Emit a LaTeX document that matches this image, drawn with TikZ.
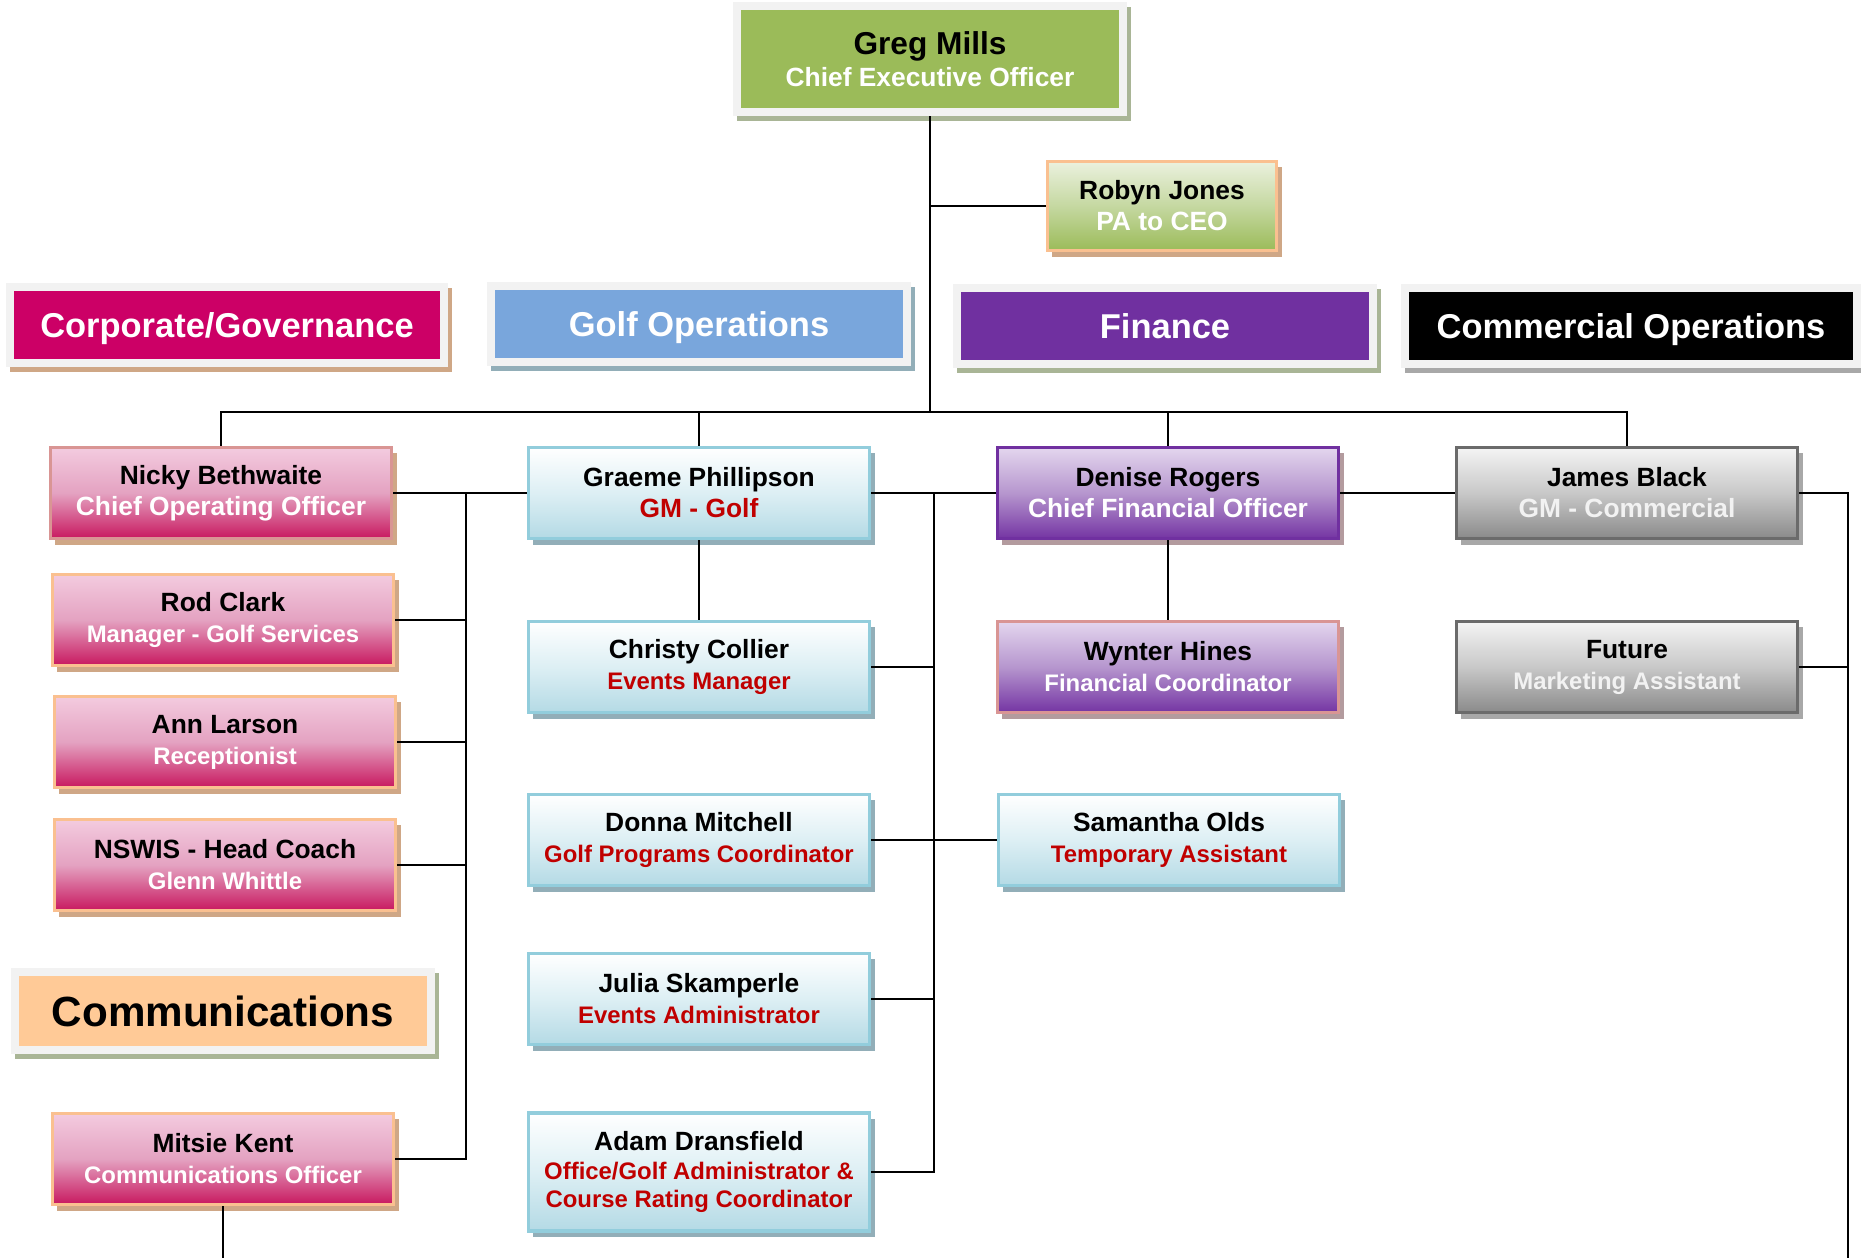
\documentclass[tikz,border=0pt]{standalone}
\usepackage{fontspec}
\setmainfont{Liberation Sans}
\usetikzlibrary{shadows}

\definecolor{ceogreen}{HTML}{9BBB59}
\definecolor{framegray}{HTML}{F2F2F2}
\definecolor{corpmag}{HTML}{CC0066}
\definecolor{golfblue}{HTML}{79A6DC}
\definecolor{finpurple}{HTML}{7030A0}
\definecolor{commorange}{HTML}{FFCA97}
\definecolor{rolered}{HTML}{C00000}
\definecolor{pinktop}{HTML}{F3CBDF}
\definecolor{pinkmid}{HTML}{E4A2C1}
\definecolor{pinkbot}{HTML}{C8185F}
\definecolor{bluetop}{HTML}{FFFFFF}
\definecolor{bluemid}{HTML}{DDEFF4}
\definecolor{bluebot}{HTML}{B4DAE5}
\definecolor{blueline}{HTML}{92CDDC}
\definecolor{purptop}{HTML}{E4D6EE}
\definecolor{purpmid}{HTML}{B696CE}
\definecolor{purpbot}{HTML}{7434A3}
\definecolor{greytop}{HTML}{F4F4F4}
\definecolor{greymid}{HTML}{C8C8C8}
\definecolor{greybot}{HTML}{8A8A8A}
\definecolor{greyline}{HTML}{6B6B6B}
\definecolor{greentop}{HTML}{EBF1DE}
\definecolor{greenmid}{HTML}{C5D8A1}
\definecolor{orangeline}{HTML}{FAC090}
\definecolor{roseline}{HTML}{D99594}
\definecolor{tanshadow}{HTML}{CFA786}
\definecolor{sageshadow}{HTML}{A9B596}
\definecolor{tealshadow}{HTML}{92AEB8}
\definecolor{mauveshadow}{HTML}{B39B9E}
\definecolor{greyshadow}{HTML}{A8A8A8}

\tikzset{
	conn/.style={draw=black, line width=0.6pt},
	banner/.style 2 args={fill=framegray, inner sep=0pt, text=white,
		font=\fontsize{9.8}{11}\selectfont\bfseries, text height=0.25cm, text depth=0pt,
		path picture={\fill[#1] ([shift={(0.08cm,0.08cm)}]path picture bounding box.south west) rectangle ([shift={(-0.08cm,-0.08cm)}]path picture bounding box.north east);},
		general shadow={fill=#2, shadow xshift=0.04cm, shadow yshift=-0.05cm}},
	person/.style={draw, line width=0.9pt, inner sep=0pt, minimum width=3.41cm, minimum height=0.91cm,
		align=center, font=\fontsize{7.5}{8.8}\selectfont\bfseries},
	pinkbox/.style={person, draw=#1, top color=pinktop, bottom color=pinkbot, middle color=pinkmid,
		general shadow={fill=tanshadow, shadow xshift=0.05cm, shadow yshift=-0.06cm}},
	bluebox/.style={person, draw=blueline, top color=bluetop, bottom color=bluebot, middle color=bluemid,
		general shadow={fill=tealshadow, shadow xshift=0.05cm, shadow yshift=-0.06cm}},
	purplebox/.style={person, draw=#1, top color=purptop, bottom color=purpbot, middle color=purpmid,
		general shadow={fill=mauveshadow, shadow xshift=0.05cm, shadow yshift=-0.06cm}},
	greybox/.style={person, draw=greyline, top color=greytop, bottom color=greybot, middle color=greymid,
		general shadow={fill=greyshadow, shadow xshift=0.05cm, shadow yshift=-0.06cm}},
	greenbox/.style={person, draw=orangeline, top color=greentop, bottom color=ceogreen, middle color=greenmid,
		general shadow={fill=tanshadow, shadow xshift=0.05cm, shadow yshift=-0.06cm}}
}

\begin{document}
\begin{tikzpicture}[x=0.01cm, y=-0.01cm]
	\useasboundingbox (0,0) rectangle (1861,1258);

	% top
	\node[banner={ceogreen}{sageshadow}, minimum width=3.93cm, minimum height=1.13cm, align=center,
		font=\fontsize{9}{9.1}\selectfont\bfseries, text=black, text height=, text depth=] (ceo) at (930,59)
		{Greg Mills\\\fontsize{7.5}{9.1}\selectfont\color{white}Chief Executive Officer};
	\node[greenbox, minimum width=2.29cm, minimum height=0.89cm] (robyn) at (1162,206) {Robyn Jones\\\color{white}PA to CEO};

	% departments
	\node[banner={corpmag}{tanshadow}, minimum width=4.41cm, minimum height=0.84cm] (corp) at (227,325) {Corporate/Governance};
	\node[banner={golfblue}{tealshadow}, minimum width=4.24cm, minimum height=0.84cm] (golfops) at (699,324) {Golf Operations};
	\node[banner={finpurple}{sageshadow}, minimum width=4.24cm, minimum height=0.84cm] (finance) at (1165,326) {Finance};
	\node[banner={black}{greyshadow}, minimum width=4.60cm, minimum height=0.84cm] (commops) at (1631,326) {Commercial Operations};
	\node[banner={commorange}{sageshadow}, minimum width=4.24cm, minimum height=0.85cm, text=black,
		font=\fontsize{12}{14}\selectfont\bfseries, text height=0.31cm] (comms) at (223,1011) {Communications};

	% left column
	\node[pinkbox=roseline] (nicky) at (221,493) {Nicky Bethwaite\\\color{white}Chief Operating Officer};
	\node[pinkbox=orangeline] (rod) at (223,620) {Rod Clark\\\fontsize{6.8}{8.8}\selectfont\color{white}Manager - Golf Services};
	\node[pinkbox=orangeline] (ann) at (225,742) {Ann Larson\\\fontsize{6.8}{8.8}\selectfont\color{white}Receptionist};
	\node[pinkbox=orangeline] (nswis) at (225,865) {NSWIS - Head Coach\\\fontsize{6.8}{8.8}\selectfont\color{white}Glenn Whittle};
	\node[pinkbox=orangeline] (mitsie) at (223,1159) {Mitsie Kent\\\fontsize{6.8}{8.8}\selectfont\color{white}Communications Officer};

	% golf column
	\node[bluebox] (graeme) at (699,493) {Graeme Phillipson\\\color{rolered}GM - Golf};
	\node[bluebox] (christy) at (699,667) {Christy Collier\\\fontsize{6.8}{8.8}\selectfont\color{rolered}Events Manager};
	\node[bluebox] (donna) at (699,840) {Donna Mitchell\\\fontsize{6.8}{8.8}\selectfont\color{rolered}Golf Programs Coordinator};
	\node[bluebox] (julia) at (699,999) {Julia Skamperle\\\fontsize{6.8}{8.8}\selectfont\color{rolered}Events Administrator};
	\node[bluebox, minimum height=1.18cm, font=\fontsize{7.5}{8.2}\selectfont\bfseries] (adam) at (699,1172)
		{Adam Dransfield\\\fontsize{6.8}{8.2}\selectfont\color{rolered}Office/Golf Administrator \&\\\fontsize{6.8}{8.2}\selectfont\color{rolered}Course Rating Coordinator};

	% finance column
	\node[purplebox=finpurple] (denise) at (1168,493) {Denise Rogers\\\color{white}Chief Financial Officer};
	\node[purplebox=roseline] (wynter) at (1168,667) {Wynter Hines\\\fontsize{6.8}{8.8}\selectfont\color{white}Financial Coordinator};
	\node[bluebox] (samantha) at (1169,840) {Samantha Olds\\\fontsize{6.8}{8.8}\selectfont\color{rolered}Temporary Assistant};

	% commercial column
	\node[greybox] (james) at (1627,493) {James Black\\\color{framegray}GM - Commercial};
	\node[greybox] (future) at (1627,667) {Future\\\fontsize{6.8}{8.8}\selectfont\color{framegray}Marketing Assistant};

	\coordinate (hub) at (933,412);
	\coordinate (ltop) at (466,493);
	\coordinate (mtop) at (934,493);
	\coordinate (rbot) at (1848,1258);
	\coordinate (mbot) at (223,1258);

	% lines
	\draw[conn] (ceo.south) -- (ceo.south |- hub);
	\draw[conn] (ceo.south |- robyn.west) -- (robyn.west);
	\draw[conn] (nicky.north) -- (nicky.north |- hub) -- (james.north |- hub) -- (james.north);
	\draw[conn] (graeme.north) -- (graeme.north |- hub);
	\draw[conn] (denise.north) -- (denise.north |- hub);

	\draw[conn] (nicky.east) -- (graeme.west);
	\draw[conn] (graeme.east) -- (denise.west);
	\draw[conn] (denise.east) -- (james.west);
	\draw[conn] (graeme.south) -- (christy.north);
	\draw[conn] (denise.south) -- (wynter.north);
	\draw[conn] (donna.east) -- (samantha.west);

	\draw[conn] (mitsie.east) -| (ltop);
	\draw[conn] (rod.east) -- (rod.east -| ltop);
	\draw[conn] (ann.east) -- (ann.east -| ltop);
	\draw[conn] (nswis.east) -- (nswis.east -| ltop);
	\draw[conn] (mitsie.south) -- (mbot);

	\draw[conn] (adam.east) -| (mtop);
	\draw[conn] (christy.east) -- (christy.east -| mtop);
	\draw[conn] (julia.east) -- (julia.east -| mtop);

	\draw[conn] (james.east) -| (rbot);
	\draw[conn] (future.east) -- (future.east -| rbot);

\end{tikzpicture}
\end{document}
